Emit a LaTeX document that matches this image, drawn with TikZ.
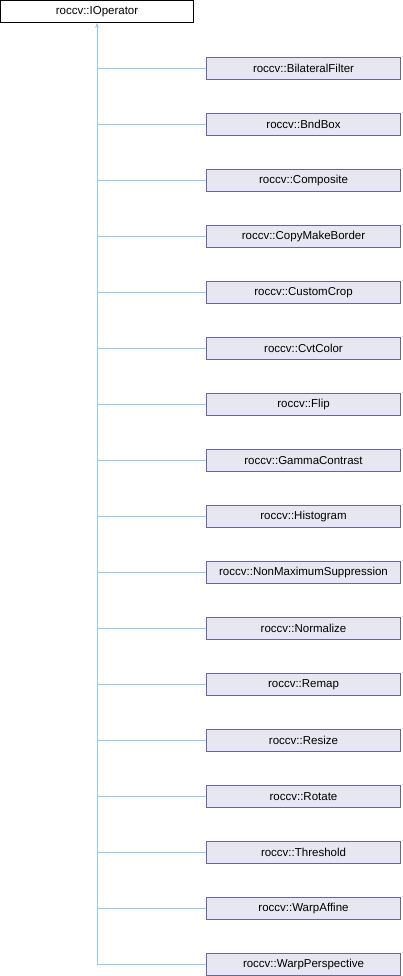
\documentclass[tikz,border=0pt]{standalone}
\usepackage{fontspec}
\setmainfont{Liberation Sans}
\usetikzlibrary{arrows.meta}

\definecolor{classfill}{RGB}{231,231,242}
\definecolor{classline}{RGB}{102,102,153}
\definecolor{inherit}{RGB}{150,200,232}

\tikzset{
	baseclass/.style = {draw = black, fill = white, line width = 0.8pt, minimum width = 193pt, minimum height = 22pt, inner sep = 0pt, font = \fontsize{11.5}{13}\selectfont},
	subclass/.style = {draw = classline, fill = classfill, line width = 0.8pt, minimum width = 194pt, minimum height = 22pt, inner sep = 0pt, font = \fontsize{11.5}{13}\selectfont},
	edge/.style = {draw = inherit, line width = 0.8pt}
}

\begin{document}
\begin{tikzpicture}[x = 1pt, y = -1pt]
	\useasboundingbox (0,0) rectangle (402,976);
	
	\node[baseclass] (ioperator) at (97,11.5) {roccv::IOperator};
	
	\node[subclass] (bilateral) at (303.5,68.5) {roccv::BilateralFilter};
	\node[subclass] (bndbox) at (303.5,124.5) {roccv::BndBox};
	\node[subclass] (composite) at (303.5,180.5) {roccv::Composite};
	\node[subclass] (copyborder) at (303.5,236.5) {roccv::CopyMakeBorder};
	\node[subclass] (customcrop) at (303.5,292.5) {roccv::CustomCrop};
	\node[subclass] (cvtcolor) at (303.5,348.5) {roccv::CvtColor};
	\node[subclass] (flip) at (303.5,404.5) {roccv::Flip};
	\node[subclass] (gamma) at (303.5,460.5) {roccv::GammaContrast};
	\node[subclass] (histogram) at (303.5,516.5) {roccv::Histogram};
	\node[subclass] (nms) at (303.5,572.5) {roccv::NonMaximumSuppression};
	\node[subclass] (normalize) at (303.5,628.5) {roccv::Normalize};
	\node[subclass] (remap) at (303.5,684.5) {roccv::Remap};
	\node[subclass] (resize) at (303.5,740.5) {roccv::Resize};
	\node[subclass] (rotate) at (303.5,796.5) {roccv::Rotate};
	\node[subclass] (threshold) at (303.5,852.5) {roccv::Threshold};
	\node[subclass] (warpaffine) at (303.5,908.5) {roccv::WarpAffine};
	\node[subclass] (warppersp) at (303.5,964.5) {roccv::WarpPerspective};
	
	% trunk of the inheritance tree
	\coordinate (trunk) at (97,964.5);
	\draw[edge, -{Stealth[length = 5pt, width = 4pt]}] (trunk) -- (ioperator.south);
	
	\foreach \cls in {bilateral, bndbox, composite, copyborder, customcrop, cvtcolor, flip, gamma, histogram, nms, normalize, remap, resize, rotate, threshold, warpaffine, warppersp}
		\draw[edge] (\cls.west) -- (\cls.west -| trunk);
\end{tikzpicture}
\end{document}
